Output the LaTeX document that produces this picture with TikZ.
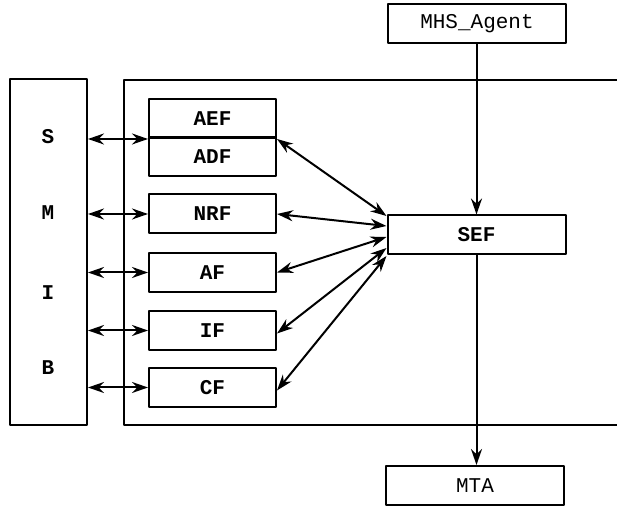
\documentclass[tikz,border=0pt]{standalone}
\usepackage{fontspec}
\setmonofont{Liberation Mono}
\usetikzlibrary{arrows.meta}
\tikzset{
  fbox/.style={draw, line width=1pt, minimum width=63.5pt, minimum height=19.5pt, inner sep=0pt, font=\ttfamily\bfseries\fontsize{10.5}{12}\selectfont},
  ebox/.style={draw, line width=1pt, minimum width=89pt, minimum height=19.5pt, inner sep=0pt},
  lnk/.style={line width=1pt, <->},
}
\begin{document}
\begin{tikzpicture}[x=0.5pt, y=-0.5pt, font=\ttfamily\fontsize{10.5}{12}\selectfont, line join=round, line cap=round, >={Stealth[length=8pt,width=5.5pt]}]
	\useasboundingbox (0,0) rectangle (617,506);

	% SMIB column
	\node[draw, line width=1pt, minimum width=38.5pt, minimum height=173pt, inner sep=0pt] (smib) at (48.5,252) {};
	\node[font=\ttfamily\bfseries\fontsize{10.5}{12}\selectfont] (s) at (48,137) {S};
	\node[font=\ttfamily\bfseries\fontsize{10.5}{12}\selectfont] (m) at (48,213) {M};
	\node[font=\ttfamily\bfseries\fontsize{10.5}{12}\selectfont] (i) at (48,293) {I};
	\node[font=\ttfamily\bfseries\fontsize{10.5}{12}\selectfont] (b) at (48,368) {B};

	% open frame
	\draw[line width=1pt] (617,80) -- (124,80) -- (124,425) -- (617,425);

	\node[fbox] (aef) at (212.5,118.5) {AEF};
	\node[fbox] (adf) at (212.5,157) {ADF};
	\node[fbox] (nrf) at (212.5,214) {NRF};
	\node[fbox] (af) at (212.5,272.5) {AF};
	\node[fbox] (if) at (212.5,330.5) {IF};
	\node[fbox] (cf) at (212.5,387.5) {CF};

	\node[ebox, font=\ttfamily\bfseries\fontsize{10.5}{12}\selectfont] (sef) at (476.5,235) {SEF};
	\node[ebox] (agent) at (477,24) {MHS\_Agent};
	\node[ebox] (mta) at (475,485.5) {MTA};

	\draw[line width=1pt, ->] (sef.north |- agent.south) -- (sef.north);
	\draw[line width=1pt, ->] (sef.south) -- (sef.south |- mta.north);

	\draw[lnk] (smib.east |- aef.south) -- (aef.south west);
	\draw[lnk] (smib.east |- nrf.west) -- (nrf.west);
	\draw[lnk] (smib.east |- af.west) -- (af.west);
	\draw[lnk] (smib.east |- if.west) -- (if.west);
	\draw[lnk] (smib.east |- cf.west) -- (cf.west);

	\draw[lnk] (aef.south east) -- ([yshift=9.5pt]sef.west);
	\draw[lnk] (nrf.east) -- ([yshift=4.5pt]sef.west);
	\draw[lnk] (af.east) -- ([yshift=-1pt]sef.west);
	\draw[lnk] ([yshift=-1.5pt]if.east) -- ([yshift=-6.5pt]sef.west);
	\draw[lnk] ([yshift=-1.5pt]cf.east) -- ([yshift=-10.5pt]sef.west);
\end{tikzpicture}
\end{document}
